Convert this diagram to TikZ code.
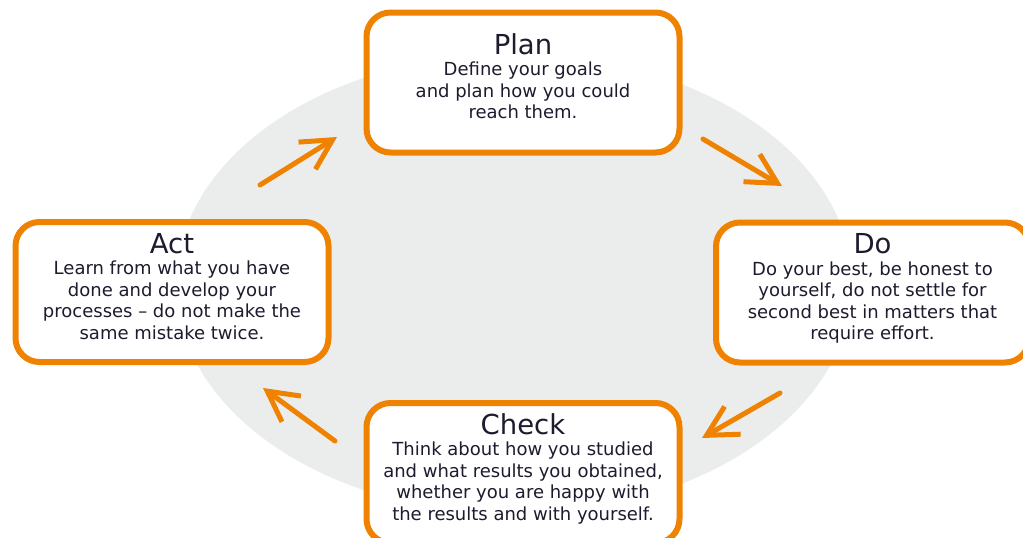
\documentclass[tikz,border=0pt]{standalone}
\usepackage{fontspec}
\setmainfont{DejaVu Sans}
\usetikzlibrary{arrows.meta}
\definecolor{pdcaorange}{HTML}{EF8200}
\definecolor{ellgray}{HTML}{EBECEC}
\definecolor{txtdark}{HTML}{1E1B2E}
\newcommand\ttlfont{\fontsize{27.5}{21.5}\selectfont}
\newcommand\bdepth{\rule[-12.9pt]{0pt}{12.9pt}}
\tikzset{
  pdcabox/.style={draw=pdcaorange, line width=6pt, fill=white, rounded corners=24pt,
    minimum width=313pt, minimum height=140pt, inner sep=0pt, align=center,
    text=txtdark, font=\fontsize{18}{21.5}\selectfont},
  cyclearrow/.style={draw=pdcaorange, line width=5pt, line cap=round,
    -{Straight Barb[length=30pt,width=32pt]}}
}
\begin{document}
\begin{tikzpicture}[x=1pt,y=-1pt]
\clip (0,0) rectangle (1023,538);
\fill[white] (0,0) rectangle (1023,538);
\fill[ellgray] (514,284) ellipse [x radius=338pt, y radius=230pt];

\node[pdcabox] (plan) at (523,82.5) {{\ttlfont Plan\vphantom{l}}\\Define your goals\\and plan how you could\\reach them.\bdepth};
\node[pdcabox] (do) at (872.5,292.5) {{\ttlfont Do\vphantom{l}}\\Do your best, be honest to\\yourself, do not settle for\\second best in matters that\\require effort.\bdepth};
\node[pdcabox] (check) at (523,473) {{\ttlfont Check\vphantom{l}}\\Think about how you studied\\and what results you obtained,\\whether you are happy with\\the results and with yourself.\bdepth};
\node[pdcabox] (act) at (172,292) {{\ttlfont Act\vphantom{l}}\\Learn from what you have\\done and develop your\\processes -- do not make the\\same mistake twice.\bdepth};

\coordinate (a1s) at (260,185);
\coordinate (a1e) at (337,137);
\coordinate (a2s) at (703,139);
\coordinate (a2e) at (782,186);
\coordinate (a3s) at (780,393);
\coordinate (a3e) at (702,438);
\coordinate (a4s) at (335,441);
\coordinate (a4e) at (263,388);

\draw[cyclearrow] (a1s) -- (a1e);
\draw[cyclearrow] (a2s) -- (a2e);
\draw[cyclearrow] (a3s) -- (a3e);
\draw[cyclearrow] (a4s) -- (a4e);
\end{tikzpicture}
\end{document}
